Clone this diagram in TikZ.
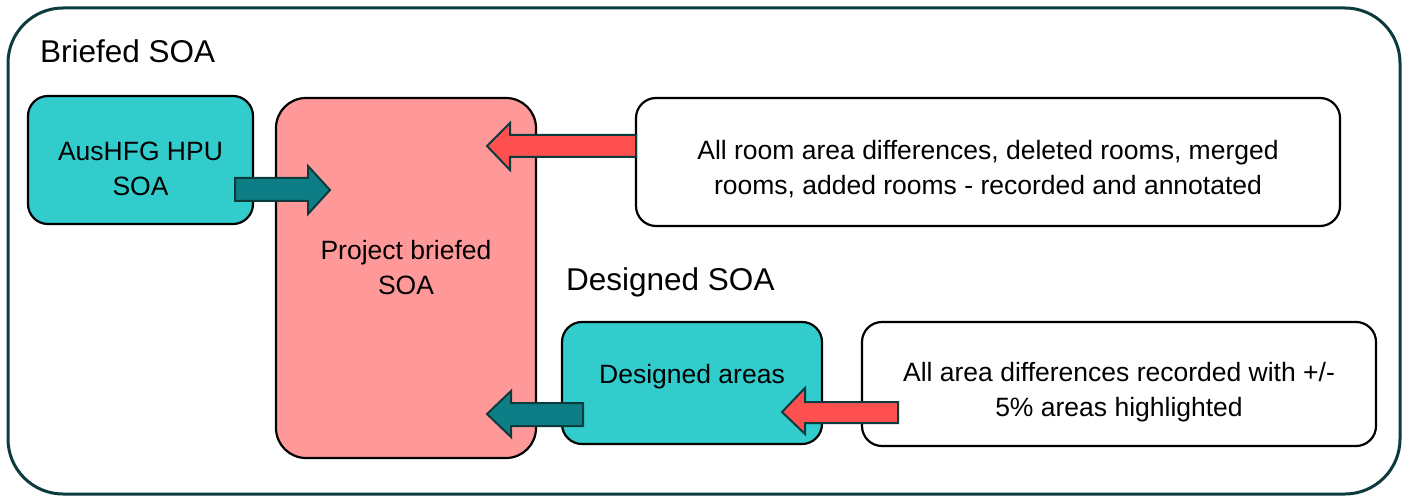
\documentclass[tikz,border=0pt]{standalone}
\usepackage{fontspec}
\setmainfont{Liberation Sans}
\begin{document}
\begin{tikzpicture}[x=1pt,y=-1pt,
  box/.style={draw=black,line width=2.2pt,rounded corners=20pt},
  lbl/.style={font=\fontsize{26.5}{35}\selectfont,align=center,text=black},
  title/.style={font=\fontsize{31.5}{36}\selectfont,anchor=west,inner sep=0pt},
  tealarrow/.style={fill=arrowteal,draw=framedark,line width=2pt,line join=miter},
  redarrow/.style={fill=arrowred,draw=framedark,line width=2pt,line join=miter}]
\definecolor{framedark}{HTML}{0B3B3D}
\definecolor{boxteal}{HTML}{33CCCC}
\definecolor{boxpink}{HTML}{FF9999}
\definecolor{arrowred}{HTML}{FF5050}
\definecolor{arrowteal}{HTML}{0E7E86}
\useasboundingbox (0,0) rectangle (1408,502);
\draw[draw=framedark,line width=3pt,rounded corners=55pt] (8,8) rectangle (1400,494);
\node[title] (t1) at (40,51) {Briefed SOA};
\node[title] (t2) at (566,282) {Designed SOA};
% boxes
\draw[box,fill=boxteal] (28,96) rectangle (253,224);
\node[lbl] (aus) at (140.5,168.5) {AusHFG HPU\\SOA};
\draw[box,fill=boxpink,rounded corners=30pt] (276,98) rectangle (536,458);
\node[lbl] (proj) at (406,268) {Project briefed\\SOA};
\draw[box,fill=white] (636,98) rectangle (1340,226);
\node[lbl] (rooms) at (988,169) {All room area differences, deleted rooms, merged\\rooms, added rooms - recorded and annotated};
\draw[box,fill=white] (862,322) rectangle (1376,446);
\node[lbl] (diff) at (1119,392.5) {All area differences recorded with +/-\\5\% areas highlighted};
\draw[box,fill=boxteal] (562,322) rectangle (822,444);
\node[lbl] (des) at (692,376.5) {Designed areas};
% arrows
\draw[tealarrow] (235,178) -- (308,178) -- (308,166) -- (330,190) -- (308,214) -- (308,201) -- (235,201) -- cycle;
\draw[redarrow] (636,135) -- (510,135) -- (510,123) -- (487,146) -- (510,170) -- (510,157) -- (636,157) -- cycle;
\draw[tealarrow] (583,403) -- (511,403) -- (511,391) -- (487,414) -- (511,437) -- (511,426) -- (583,426) -- cycle;
\draw[redarrow] (898,402) -- (805,402) -- (805,388) -- (782,412) -- (805,434) -- (805,423) -- (898,423) -- cycle;
\end{tikzpicture}
\end{document}
